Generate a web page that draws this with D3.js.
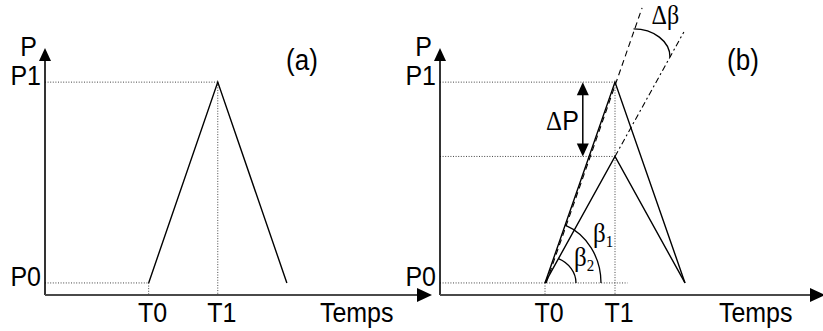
<!DOCTYPE html>
<html><head><meta charset="utf-8">
<script src="https://cdn.jsdelivr.net/npm/d3@7"></script>
<style>body{margin:0;background:#fff} svg{display:block}</style>
</head><body>
<script>
// ---- data ----
const timeLabels = ["T0", "T1"];
const timeValues = [1.5, 2.5];          // T0, T1
const endTime = 3.5;                    // end of the descent
const pressureLabels = ["P0", "P1"];
const pressureValues = [0.06, 1.06];    // P0, P1
const pressureMid = 0.69;               // lower peak in (b)
const upperExtP = 1.43;                 // end of dashed extension (upper)
const lowerExtP = 1.31;                 // end of dash-dot extension (lower)
const deltaPTime = 2.04;                // position of the ΔP arrow
const dBetaUpperP = 1.325;              // Δβ arc ends on the two extensions
const dBetaLowerP = 1.185;
const panelTitles = ["(a)", "(b)"];
const axisTitles = ["P", "Temps"];

const W = 823, H = 331;
const SANS = "'Liberation Sans', Arial, sans-serif";
const SERIF = "'Liberation Serif', 'Times New Roman', serif";
const svg = d3.select("body").append("svg").attr("width", W).attr("height", H)
  .style("font-family", SANS);

const y = d3.scaleLinear().domain([0, 1.23]).range([295, 48]);
const xa = d3.scaleLinear().domain([0, 5.6]).range([45, 432]);
const xb = d3.scaleLinear().domain([0, 5.5]).range([440, 825]);

const line = (x) => d3.line().x(d => x(d[0])).y(d => y(d[1]));
const dot = (g, x1, y1, x2, y2) => g.append("line")
  .attr("x1", x1).attr("y1", y1).attr("x2", x2).attr("y2", y2)
  .attr("stroke", "#444").attr("stroke-width", 1).attr("stroke-dasharray", "1,1.6");
const VS = 1.13; // vertical stretch of the lettering
const txt = (g, x, yy, s, anchor, fs, family) => g.append("text")
  .attr("transform", `translate(${x},${yy}) scale(1,${VS})`)
  .attr("text-anchor", anchor || "start").attr("font-size", fs || 25)
  .attr("font-family", family || SANS).text(s);

function axes(g, x, title, titleX) {
  const x0 = x(0), y0 = y(0), xm = x.range()[1], ym = y.range()[1];
  g.append("line").attr("x1", x0).attr("y1", y0).attr("x2", x0).attr("y2", ym + 10)
    .attr("stroke", "#000").attr("stroke-width", 1.6);
  g.append("path").attr("d", `M${x0},${ym}L${x0 - 6},${ym + 13}L${x0 + 6},${ym + 13}Z`).attr("fill", "#000");
  g.append("line").attr("x1", x0).attr("y1", y0).attr("x2", xm - 12).attr("y2", y0)
    .attr("stroke", "#4a4a4a").attr("stroke-width", 2.2);
  g.append("path").attr("d", `M${xm},${y0}L${xm - 15},${y0 - 7}L${xm - 15},${y0 + 7}Z`).attr("fill", "#000");
  txt(g, x0 - 8, ym + 8, axisTitles[0], "end");
  pressureLabels.forEach((lab, i) => txt(g, x0 - 4, y(pressureValues[i]) + 3, lab, "end"));
  timeLabels.forEach((lab, i) => txt(g, x(timeValues[i]) + 4, 322, lab, "middle"));
  txt(g, x(4.51), 322, axisTitles[1], "middle");
  txt(g, titleX, 70, title, "middle", 26);
}

// ---------- panel (a) ----------
const ga = svg.append("g");
const [t0, t1] = timeValues, [p0, p1] = pressureValues;
dot(ga, xa(0), y(p1), xa(t1), y(p1));
dot(ga, xa(0), y(p0), xa(t0), y(p0));
dot(ga, xa(t0), y(p0), xa(t0), y(0));
dot(ga, xa(t1), y(p1), xa(t1), y(0));
ga.append("path").attr("d", line(xa)([[t0, p0], [t1, p1], [endTime, p0]]))
  .attr("fill", "none").attr("stroke", "#000").attr("stroke-width", 1.4);
axes(ga, xa, panelTitles[0], 302);

// ---------- panel (b) ----------
const gb = svg.append("g");
dot(gb, xb(0), y(p1), xb(t1), y(p1));
dot(gb, xb(0), y(pressureMid), xb(t1), y(pressureMid));
dot(gb, xb(0), y(p0), xb(2.68), y(p0));
dot(gb, xb(t0), y(p0), xb(t0), y(0));
dot(gb, xb(t1), y(p1), xb(t1), y(0));
gb.append("path").attr("d", line(xb)([[t0, p0], [t1, p1], [endTime, p0]]))
  .attr("fill", "none").attr("stroke", "#000").attr("stroke-width", 1.4);
gb.append("path").attr("d", line(xb)([[t0, p0], [t1, pressureMid], [endTime, p0]]))
  .attr("fill", "none").attr("stroke", "#000").attr("stroke-width", 1.4);
const upT = t0 + (upperExtP - p0) / (p1 - p0) * (t1 - t0);
gb.append("path").attr("d", line(xb)([[t0, p0], [upT, upperExtP]]))
  .attr("transform", "translate(1.2,0)")
  .attr("fill", "none").attr("stroke", "#000").attr("stroke-width", 1.1).attr("stroke-dasharray", "6,4");
const loT = t0 + (lowerExtP - p0) / (pressureMid - p0) * (t1 - t0);
gb.append("path").attr("d", line(xb)([[t1, pressureMid], [loT, lowerExtP]]))
  .attr("fill", "none").attr("stroke", "#000").attr("stroke-width", 1.1).attr("stroke-dasharray", "6,3,2,3");
// Δβ arc
const aT = t0 + (dBetaUpperP - p0) / (p1 - p0) * (t1 - t0);
const bT = t0 + (dBetaLowerP - p0) / (pressureMid - p0) * (t1 - t0);
const ax = xb(aT), ay = y(dBetaUpperP), bx = xb(bT), by = y(dBetaLowerP);
gb.append("path").attr("d", `M${ax},${ay}A${bx - ax},${by - ay} 0 0 1 ${bx},${by}`)
  .attr("fill", "none").attr("stroke", "#000").attr("stroke-width", 1.4);
txt(gb, ax + 18, 24, "Δβ", "start", 24, SERIF);
// ΔP double arrow
const dx = xb(deltaPTime), yTop = y(p1), yBot = y(pressureMid);
gb.append("line").attr("x1", dx).attr("y1", yTop + 10).attr("x2", dx).attr("y2", yBot - 10)
  .attr("stroke", "#000").attr("stroke-width", 1.5);
gb.append("path").attr("d", `M${dx},${yTop}L${dx - 6},${yTop + 13}L${dx + 6},${yTop + 13}Z`).attr("fill", "#000");
gb.append("path").attr("d", `M${dx},${yBot}L${dx - 6},${yBot - 13}L${dx + 6},${yBot - 13}Z`).attr("fill", "#000");
const dpt = txt(gb, dx - 4, 130, "", "end", 25);
dpt.append("tspan").attr("font-family", SERIF).text("Δ");
dpt.append("tspan").text("P");
// β arcs
function betaArc(pTo, rx, ry) {
  const cx = xb(t0), cy = y(p0);
  const vx = xb(t1) - cx, vy = y(pTo) - cy, L = Math.hypot(vx, vy);
  const ux = vx / L, uy = vy / L;
  const s = 1 / Math.sqrt((ux / rx) ** 2 + (uy / ry) ** 2);
  return `M${cx + s * ux},${cy + s * uy}A${rx},${ry} 0 0 1 ${cx + rx},${cy}`;
}
gb.append("path").attr("d", betaArc(p1, 56, 62)).attr("fill", "none").attr("stroke", "#000").attr("stroke-width", 1.3);
gb.append("path").attr("d", betaArc(pressureMid, 31, 27)).attr("fill", "none").attr("stroke", "#000").attr("stroke-width", 1.3);
function betaLabel(x0, yb, sub) {
  const t = txt(gb, x0, yb, "", "start", 25, SERIF);
  t.append("tspan").text("β");
  t.append("tspan").attr("font-size", 15).attr("dy", 4).text(sub);
}
betaLabel(593, 242, "1");
betaLabel(574, 266, "2");
axes(gb, xb, panelTitles[1], 743);
</script>
</body></html>
